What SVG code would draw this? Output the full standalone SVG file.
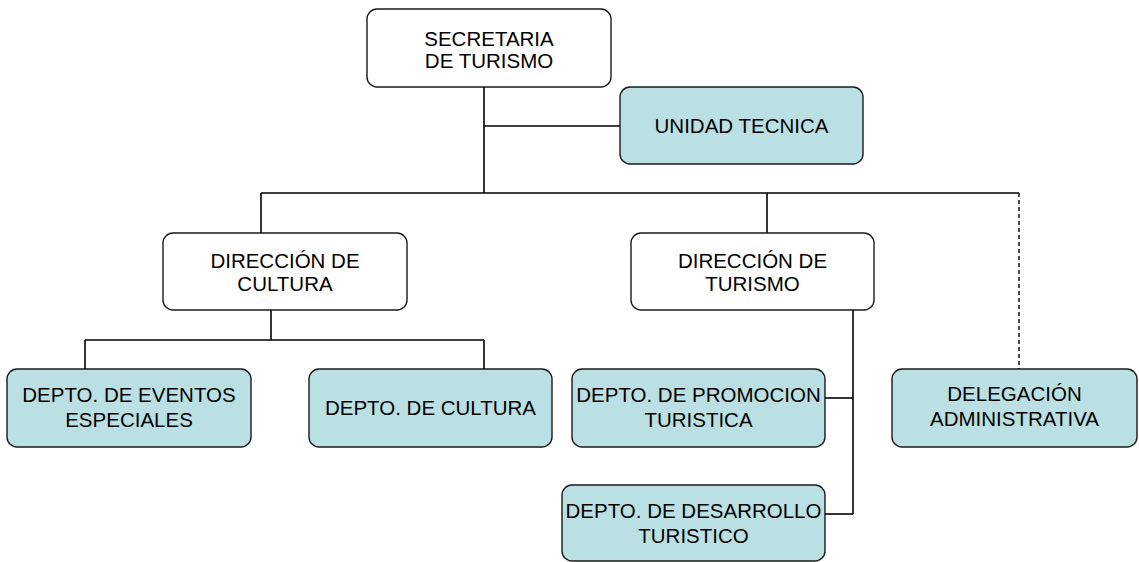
<svg xmlns="http://www.w3.org/2000/svg" width="1139" height="562" viewBox="0 0 1139 562">
<style>
.box{fill:#ffffff;stroke:#1a1a1a;stroke-width:1.4}
.blue{fill:#bae0e3;stroke:#1a1a1a;stroke-width:1.4}
.t{font-family:"Liberation Sans",Arial,sans-serif;font-size:20.5px;fill:#000;text-anchor:middle}
.c{fill:none;stroke:#000;stroke-width:1.6}
.d{fill:none;stroke:#000;stroke-width:1.4;stroke-dasharray:4,3}
</style>
<rect width="1139" height="562" fill="#ffffff"/>
<g id="connectors">
<path class="c" d="M484,87 V193"/>
<path class="c" d="M484,126 H620"/>
<path class="c" d="M261,193 H1019"/>
<path class="c" d="M261,193 V233"/>
<path class="c" d="M767,193 V233"/>
<path class="d" d="M1019,193 V369"/>
<path class="c" d="M271,310 V340"/>
<path class="c" d="M85,340 H484"/>
<path class="c" d="M85,340 V369"/>
<path class="c" d="M484,340 V369"/>
<path class="c" d="M853,310 V514"/>
<path class="c" d="M825,398 H853"/>
<path class="c" d="M825,514 H853"/>
</g>
<g id="secretaria">
<rect class="box" x="367" y="9" width="244" height="78" rx="10"/>
<text class="t" x="489" y="46">SECRETARIA</text>
<text class="t" x="489" y="68">DE TURISMO</text>
</g>
<g id="unidad">
<rect class="blue" x="620" y="87" width="243" height="77" rx="10"/>
<text class="t" x="741.5" y="133">UNIDAD TECNICA</text>
</g>
<g id="dir-cultura">
<rect class="box" x="163" y="233" width="244" height="77" rx="10"/>
<text class="t" x="285" y="268">DIRECCIÓN DE</text>
<text class="t" x="285" y="291">CULTURA</text>
</g>
<g id="dir-turismo">
<rect class="box" x="631" y="233" width="243" height="77" rx="10"/>
<text class="t" x="752.5" y="268">DIRECCIÓN DE</text>
<text class="t" x="752.5" y="291">TURISMO</text>
</g>
<g id="eventos">
<rect class="blue" x="7" y="369" width="244" height="78" rx="10"/>
<text class="t" x="129" y="402">DEPTO. DE EVENTOS</text>
<text class="t" x="129" y="427">ESPECIALES</text>
</g>
<g id="depto-cultura">
<rect class="blue" x="309" y="369" width="243" height="78" rx="10"/>
<text class="t" x="430.5" y="415">DEPTO. DE CULTURA</text>
</g>
<g id="promocion">
<rect class="blue" x="572" y="369" width="253" height="78" rx="10"/>
<text class="t" x="698.5" y="402">DEPTO. DE PROMOCION</text>
<text class="t" x="698.5" y="427">TURISTICA</text>
</g>
<g id="delegacion">
<rect class="blue" x="892" y="369" width="245" height="78" rx="10"/>
<text class="t" x="1014.5" y="401">DELEGACIÓN</text>
<text class="t" x="1014.5" y="426">ADMINISTRATIVA</text>
</g>
<g id="desarrollo">
<rect class="blue" x="562" y="485" width="263" height="76" rx="10"/>
<text class="t" x="693.5" y="518">DEPTO. DE DESARROLLO</text>
<text class="t" x="693.5" y="543">TURISTICO</text>
</g>
</svg>
